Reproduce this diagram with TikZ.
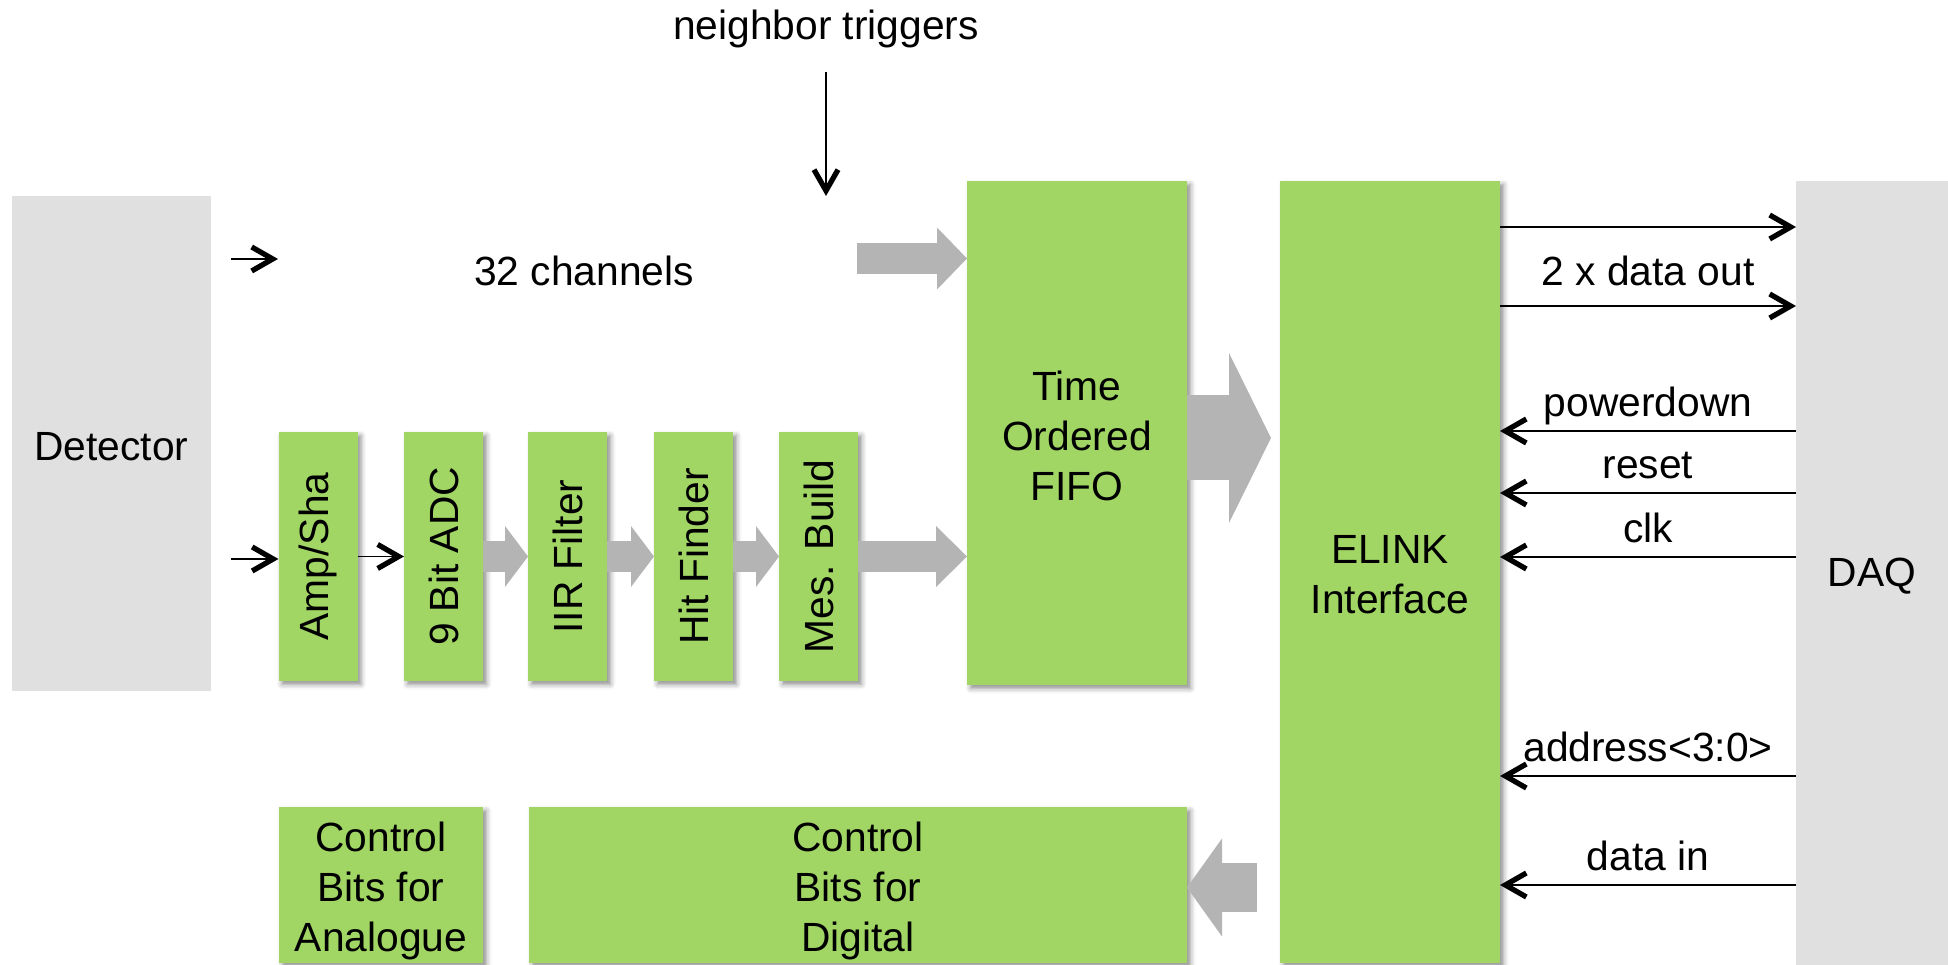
\documentclass[tikz,border=0pt]{standalone}
\usepackage{fontspec}
\setmainfont{Liberation Sans}
\usepackage{graphicx}
\usetikzlibrary{arrows.meta,shadows.blur}

\definecolor{boxgreen}{RGB}{161,213,100}
\definecolor{boxgrey}{RGB}{224,224,224}
\definecolor{fatgrey}{RGB}{180,180,180}

\begin{document}
\begin{tikzpicture}[every node/.style={font=\fontsize{11.6}{14.2}\selectfont, align=center, inner sep=0pt, outer sep=0pt},
    grn/.style={fill=boxgreen, blur shadow={shadow xshift=0.035cm, shadow yshift=-0.035cm, shadow blur radius=0.05cm, shadow opacity=45}},
    gry/.style={fill=boxgrey},
    fat/.style n args={3}{draw=fatgrey, line width=#1, -{Triangle[length=#2, width=#3, line width=0pt]}},
    sig/.style={line width=0.45pt, -{Straight Barb[length=0.21cm, width=0.24cm, line width=1.5pt]}}]
    \useasboundingbox (0,0) rectangle (19.48,-9.65);

    \node[gry, minimum width=1.99cm, minimum height=4.95cm, label={[yshift=-0.03cm]center:Detector}] (det) at (1.115,-4.435) {};
    \node[gry, minimum width=1.52cm, minimum height=7.84cm, label={[yshift=-0.03cm]center:DAQ}] (daq) at (18.72,-5.73) {};

    \node[grn, minimum width=0.79cm, minimum height=2.49cm] (amp) at (3.18,-5.565) {\rotatebox{90}{Amp/Sha}};
    \node[grn, minimum width=0.79cm, minimum height=2.49cm] (adc) at (4.435,-5.565) {\rotatebox{90}{9 Bit ADC}};
    \node[grn, minimum width=0.79cm, minimum height=2.49cm] (iir) at (5.675,-5.565) {\rotatebox{90}{IIR Filter}};
    \node[grn, minimum width=0.79cm, minimum height=2.49cm] (hit) at (6.935,-5.565) {\rotatebox{90}{Hit Finder}};
    \node[grn, minimum width=0.79cm, minimum height=2.49cm] (mes) at (8.185,-5.565) {\rotatebox{90}{Mes. Build}};

    \node[grn, minimum width=2.2cm, minimum height=5.04cm, label={[yshift=-0.03cm]center:Time\\Ordered\\FIFO}] (fifo) at (10.77,-4.33) {};
    \node[grn, minimum width=2.2cm, minimum height=7.82cm, label={[yshift=-0.03cm]center:ELINK\\Interface}] (elink) at (13.9,-5.72) {};

    \node[grn, minimum width=2.04cm, minimum height=1.56cm, label={[yshift=-0.06cm]center:Control\\Bits for\\Analogue}] (ana) at (3.81,-8.85) {};
    \node[grn, minimum width=6.58cm, minimum height=1.56cm, label={[yshift=-0.06cm]center:Control\\Bits for\\Digital}] (dig) at (8.58,-8.85) {};

    \node (ch) at (5.84,-2.71) {32 channels};
    \node (trig) at (8.26,-0.29) {neighbor triggers};
    \node (dout) at (16.48,-2.71) {2 x data out};

    \coordinate (n1) at (8.26,-0.72);
    \coordinate (n2) at (8.26,-1.96);
    \draw[sig] (n1) -- (n2);

    \coordinate (c1) at (2.31,-2.59);
    \coordinate (c2) at (2.78,-2.59);
    \coordinate (c3) at (2.31,-5.59);
    \draw[sig] (c1) -- (c2);
    \draw[sig] (c3) -- (amp.west |- c3);
    \draw[sig] (amp.east) -- (adc.west);

    \draw[fat={0.31cm}{0.23cm}{0.61cm}] (adc.east) -- (iir.west);
    \draw[fat={0.31cm}{0.23cm}{0.61cm}] (iir.east) -- (hit.west);
    \draw[fat={0.31cm}{0.23cm}{0.61cm}] (hit.east) -- (mes.west);
    \draw[fat={0.31cm}{0.31cm}{0.61cm}] (mes.east) -- (fifo.west |- mes.east);

    \coordinate (f1) at (8.57,-2.585);
    \draw[fat={0.31cm}{0.30cm}{0.62cm}] (f1) -- (fifo.west |- f1);

    \draw[fat={0.85cm}{0.42cm}{1.70cm}, shorten >=0.09cm] ([yshift=-0.05cm]fifo.east) -- ([yshift=-0.05cm]fifo.east -| elink.west);
    \draw[fat={0.49cm}{0.35cm}{0.98cm}, shorten <=0.23cm] ([yshift=-0.025cm]dig.east -| elink.west) -- ([yshift=-0.025cm]dig.east);

    \draw[sig] (elink.east |- 0,-2.27) -- (daq.west |- 0,-2.27);
    \draw[sig] (elink.east |- 0,-3.06) -- (daq.west |- 0,-3.06);

    \draw[sig] (daq.west |- 0,-4.31) -- (elink.east |- 0,-4.31) node[midway, anchor=base, yshift=0.14cm] {powerdown};
    \draw[sig] (daq.west |- 0,-4.93) -- (elink.east |- 0,-4.93) node[midway, anchor=base, yshift=0.14cm] {reset};
    \draw[sig] (daq.west |- 0,-5.57) -- (elink.east |- 0,-5.57) node[midway, anchor=base, yshift=0.14cm] {clk};
    \draw[sig] (daq.west |- 0,-7.76) -- (elink.east |- 0,-7.76) node[midway, anchor=base, yshift=0.14cm] {address<3:0>};
    \draw[sig] (daq.west |- 0,-8.85) -- (elink.east |- 0,-8.85) node[midway, anchor=base, yshift=0.14cm] {data in};
\end{tikzpicture}
\end{document}
